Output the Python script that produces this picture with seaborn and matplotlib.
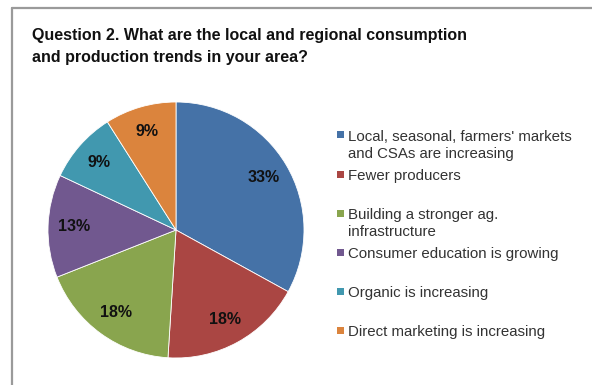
import matplotlib
matplotlib.use("Agg")
import matplotlib.pyplot as plt
from matplotlib.patches import Rectangle
from matplotlib.lines import Line2D
import seaborn as sns

sns.set_theme(style="white")
plt.rcParams["font.family"] = ["Liberation Sans", "DejaVu Sans"]

# Survey answers
categories = [
    "Local, seasonal, farmers' markets\nand CSAs are increasing",
    "Fewer producers",
    "Building a stronger ag.\ninfrastructure",
    "Consumer education is growing",
    "Organic is increasing",
    "Direct marketing is increasing",
]
shares = [33, 18, 18, 13, 9, 9]
colors = ["#4572A7", "#AA4643", "#89A54E", "#71588F", "#4198AF", "#DB843D"]
palette = sns.color_palette(colors)

W, H = 592, 385
fig = plt.figure(figsize=(W / 100, H / 100), dpi=100)
fig.patch.set_facecolor("white")

# Frame lines along top and left edges
fig.add_artist(Line2D([11.5 / W, 11.5 / W], [0, 1 - 8 / H], color="#9a9a9a", lw=1.6,
                      transform=fig.transFigure))
fig.add_artist(Line2D([11.5 / W, 1], [1 - 8 / H, 1 - 8 / H], color="#9a9a9a", lw=1.6,
                      transform=fig.transFigure))

fig.text(32 / W, 1 - 28 / H,
         "Question 2. What are the local and regional consumption\nand production trends in your area?",
         fontsize=11.5, fontweight="bold", color="#111111", va="top", ha="left",
         linespacing=1.6)

# Pie centred at (176, 230) px, radius ~128 px
cx, cy, r = 176, 230, 128
ax = fig.add_axes([(cx - r) / W, 1 - (cy + r) / H, 2 * r / W, 2 * r / H])
wedges, texts, autotexts = ax.pie(
    shares, colors=palette, startangle=90, counterclock=False,
    autopct=lambda p: f"{p:.0f}%", pctdistance=0.8,
    wedgeprops=dict(edgecolor="white", linewidth=0.6),
    textprops=dict(fontsize=11.5, fontweight="bold", color="#111111"),
    radius=1.0,
)
ax.set_xlim(-1.0, 1.0)
ax.set_ylim(-1.0, 1.0)
ax.set_aspect("equal")
ax.axis("off")

# Legend entries, one slot every 39 px
y0 = 135
for i, (lab, col) in enumerate(zip(categories, palette)):
    y = y0 + 39 * i
    fig.add_artist(Rectangle((337 / W, 1 - (y + 3.5) / H), 7 / W, 7 / H,
                             facecolor=col, edgecolor="none", transform=fig.transFigure))
    fig.text(348 / W, 1 - (y - 5) / H, lab, fontsize=10.8, color="#333333",
             va="top", ha="left", linespacing=1.3)

fig.savefig("out.png", dpi=100, facecolor="white")
